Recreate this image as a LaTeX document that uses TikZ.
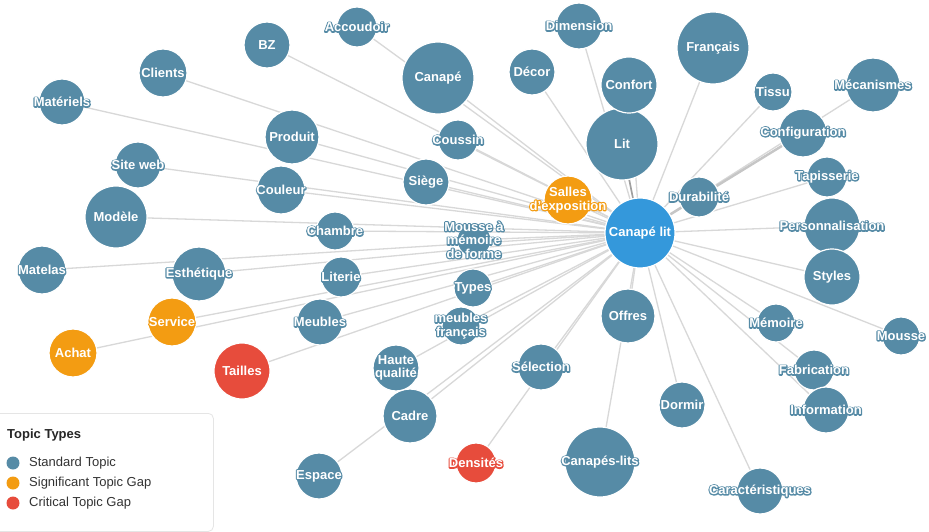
\documentclass[tikz,border=0pt]{standalone}
\usepackage{fontspec}
\setmainfont{Liberation Sans}
\definecolor{std}{HTML}{568BA6}
\definecolor{hubc}{HTML}{3498DB}
\definecolor{sig}{HTML}{F39C12}
\definecolor{crit}{HTML}{E74C3C}
\definecolor{edgec}{HTML}{D8D8D8}
\pgfdeclarelayer{background}
\pgfsetlayers{background,main}
% outlined white text: a stroked copy in the node colour under the white text
\newcommand\ol[1]{\leavevmode\rlap{\color{\tc}\special{pdf:literal direct 1 Tr 2.4 w 1 j}#1\special{pdf:literal direct 0 Tr 0.4 w 0 j}}#1}
\tikzset{
  topic/.style={circle, inner sep=0pt, outer sep=0pt, fill=#1, draw=white, line width=1.2pt},
  lbl/.style={text=white, font=\fontsize{13}{13.5}\selectfont\bfseries, align=center, inner sep=0pt},
  edge/.style={draw=edgec, line width=1.3pt},
  legtext/.style={font=\fontsize{13}{15}\selectfont, text=black!80, anchor=west, inner sep=0pt},
  legdot/.style={circle, inner sep=0pt, minimum size=13pt, fill=#1}
}
\def\topics{%
lit/622/144/36/std/{\ol{Lit}},
salles/568/200/24/sig/{\ol{Salles}\\\ol{d'exposition}},
durab/699/197/20/std/{\ol{Durabilité}},
accoud/357/27/20/std/{\ol{Accoudoir}},
canape/438/78/36/std/{\ol{Canapé}},
dimension/579/26/23/std/{\ol{Dimension}},
decor/532/72/23/std/{\ol{Décor}},
coussin/458/140/20/std/{\ol{Coussin}},
siege/426/182/23/std/{\ol{Siège}},
confort/629/85/28/std/{\ol{Confort}},
francais/713/48/36/std/{\ol{Français}},
tissu/773/92/19/std/{\ol{Tissu}},
meca/873/85/27/std/{\ol{Mécanismes}},
config/803/133/24/std/{\ol{Configuration}},
tapis/827/177/20/std/{\ol{Tapisserie}},
perso/832/226/28/std/{\ol{Personnalisation}},
styles/832/277/28/std/{\ol{Styles}},
mousse/901/336/19/std/{\ol{Mousse}},
memoire/776/323/19/std/{\ol{Mémoire}},
fabric/814/370/20/std/{\ol{Fabrication}},
info/826/410/23/std/{\ol{Information}},
dormir/682/405/23/std/{\ol{Dormir}},
caract/760/491/23/std/{\ol{Caractéristiques}},
offres/628/316/27/std/{\ol{Offres}},
canlits/600/462/35/std/{\ol{Canapés-lits}},
selection/541/367/23/std/{\ol{Sélection}},
densites/476/463/20/crit/{\ol{Densités}},
cadre/410/416/27/std/{\ol{Cadre}},
haute/396/368/23/std/{\ol{Haute}\\\ol{qualité}},
espace/319/476/23/std/{\ol{Espace}},
meublesfr/461/326/19/std/{\ol{meubles}\\\ol{français}},
types/473/288/19/std/{\ol{Types}},
mousseam/474/240/17/std/{\ol{Mousse à}\\\ol{mémoire}\\\ol{de forme}},
literie/341/277/20/std/{\ol{Literie}},
chambre/335/231/19/std/{\ol{Chambre}},
meubles/320/322/23/std/{\ol{Meubles}},
couleur/281/190/24/std/{\ol{Couleur}},
produit/292/137/27/std/{\ol{Produit}},
bz/267/45/23/std/{\ol{BZ}},
clients/163/73/24/std/{\ol{Clients}},
materiels/62/102/23/std/{\ol{Matériels}},
siteweb/138/165/23/std/{\ol{Site web}},
modele/116/217/31/std/{\ol{Modèle}},
matelas/42/270/24/std/{\ol{Matelas}},
esthet/199/274/27/std/{\ol{Esthétique}},
service/172/322/24/sig/{\ol{Service}},
achat/73/353/24/sig/{\ol{Achat}},
tailles/242/371/28/crit/{\ol{Tailles}}}
\begin{document}
\begin{tikzpicture}[x=1pt,y=-1pt]
\useasboundingbox (0,0) rectangle (929,532);
\begin{pgfonlayer}{background}
  \fill[white] (0,0) rectangle (929,532);
\end{pgfonlayer}
% hub
\node[topic=hubc, minimum size=70pt] (hub) at (640,233) {};
% topics and their connectors
\foreach \id/\xx/\yy/\rr/\tc/\tx in \topics {
  \node[topic=\tc, minimum size={2*\rr}] (\id) at (\xx,\yy) {};
  \begin{pgfonlayer}{background}
    \draw[edge] (hub) -- (\id);
  \end{pgfonlayer}
}
\begin{pgfonlayer}{background}
  \draw[draw=gray!75, line width=1.6pt] (hub) -- (lit);
  \draw[draw=edgec!80!gray, line width=2.4pt] (hub) -- (config);
\end{pgfonlayer}
% labels
\foreach \id/\xx/\yy/\rr/\tc/\tx in \topics {
  \node[lbl] (\id-l) at (\id) {\tx};
}
\def\tc{hubc}
\node[lbl] (hub-l) at (hub) {\ol{Canapé lit}};
% legend
\node[draw=black!10, fill=white, rounded corners=5pt, line width=0.8pt, minimum width=220pt, minimum height=118pt, anchor=north west, inner sep=0pt] (legend) at (-7,413) {};
\node[anchor=west, inner sep=0pt, font=\fontsize{13}{15}\selectfont\bfseries, text=black!85] (legtitle) at (7,435) {Topic Types};
\node[legdot=std] (d1) at (13,463) {};
\node[legdot=sig] (d2) at (13,483) {};
\node[legdot=crit] (d3) at (13,503) {};
\node[legtext] (t1) at (29,463) {Standard Topic};
\node[legtext] (t2) at (29,483) {Significant Topic Gap};
\node[legtext] (t3) at (29,503) {Critical Topic Gap};
\end{tikzpicture}
\end{document}
